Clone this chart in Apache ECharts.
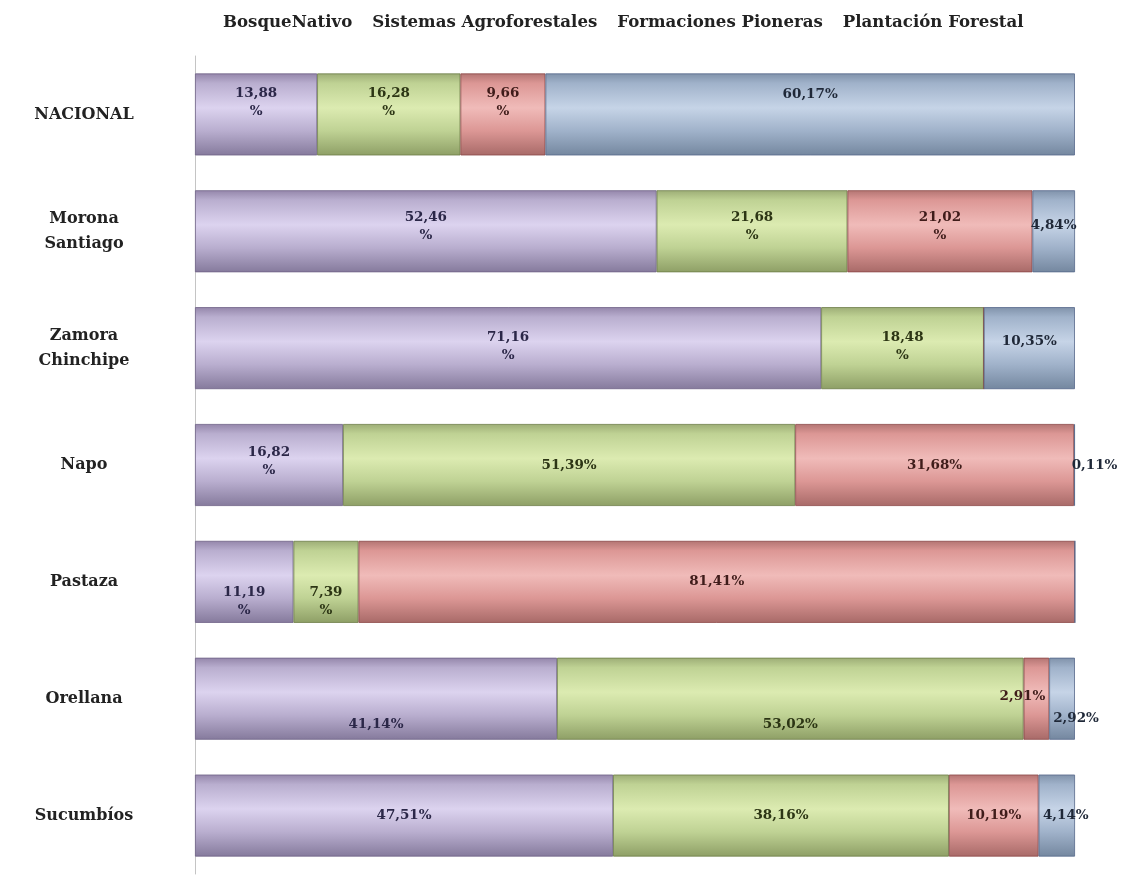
<!DOCTYPE html>
<html><head><meta charset="utf-8">
<script src="https://cdn.jsdelivr.net/npm/echarts@6/dist/echarts.min.js"></script>
<style>html,body{margin:0;padding:0;background:#fff}#c{width:1135px;height:877px}</style>
</head><body><div id="c"></div>
<script>
// ---- data ----
const categories = ['NACIONAL', 'Morona\nSantiago', 'Zamora\nChinchipe', 'Napo', 'Pastaza', 'Orellana', 'Sucumbíos'];
const seriesNames = ['BosqueNativo', 'Sistemas Agroforestales', 'Formaciones Pioneras', 'Plantación Forestal'];
const bosqueNativo = [13.88, 52.46, 71.16, 16.82, 11.19, 41.14, 47.51];
const sistemasAgroforestales = [16.28, 21.68, 18.48, 51.39, 7.39, 53.02, 38.16];
const formacionesPioneras = [9.66, 21.02, 0, 31.68, 81.41, 2.91, 10.19];
const plantacionForestal = [60.17, 4.84, 10.35, 0.11, 0, 2.92, 4.14];

// ---- styling (not data) ----
const values = [bosqueNativo, sistemasAgroforestales, formacionesPioneras, plantacionForestal];
const palettes = [
  ['#9486aa', '#dcd3ef', '#b9aecf', '#857a9c'],
  ['#9dad76', '#dcebb1', '#bfd294', '#8e9f66'],
  ['#b37573', '#f0bbb9', '#dc9795', '#a86a68'],
  ['#8092aa', '#c6d4e7', '#a0b2ca', '#74879f']
];
const borders = ['#6f6287', '#6d7d48', '#8c4846', '#56678a'];
const labelColors = ['#2b2748', '#2c3514', '#3f1c1a', '#1f2838'];
// labels wrapped onto two lines, as in the reference
const wrapped = {'0,0':1,'1,0':1,'2,0':1,'0,1':1,'1,1':1,'2,1':1,'0,2':1,'1,2':1,'0,3':1,'0,4':1,'1,4':1};
// label offsets [dx, dy]
const offsets = {
  '0,0':[0,-12],'1,0':[0,-12],'2,0':[0,-12],'3,0':[0,-20],
  '0,1':[0,-5],'1,1':[0,-5],'2,1':[0,-5],'3,1':[0,-6],
  '0,2':[0,-2],'1,2':[0,-2],'3,2':[0,-7],
  '0,3':[0,-4],'1,3':[0,0],'2,3':[0,0],'3,3':[20,0],
  '0,4':[0,20],'1,4':[0,20],'2,4':[0,0],
  '0,5':[0,26],'1,5':[0,26],'2,5':[-14,-2],'3,5':[14,20],
  '0,6':[0,0],'1,6':[0,0],'2,6':[0,0],'3,6':[9,0]
};
function fmt(v){ return v.toFixed(2).replace('.', ','); }
function grad(p){
  return new echarts.graphic.LinearGradient(0,0,0,1,[
    {offset:0,color:p[0]},{offset:0.12,color:p[2]},{offset:0.42,color:p[1]},
    {offset:0.7,color:p[2]},{offset:1,color:p[3]}]);
}
const series = seriesNames.map((name, si) => ({
  name, type: 'bar', stack: 'total', barWidth: 82,
  itemStyle: {color: grad(palettes[si]), borderColor: borders[si], borderWidth: 0.8},
  emphasis: {disabled: true},
  data: values[si].map((v, ri) => {
    const key = si + ',' + ri;
    const off = offsets[key] || [0,0];
    return {
      value: v,
      label: {
        show: v > 0, position: 'inside', offset: off,
        formatter: () => wrapped[key] ? fmt(v) + '\n%' : fmt(v) + '%'
      }
    };
  }),
  label: {
    show: true, color: labelColors[si], fontFamily: 'DejaVu Serif', fontWeight: 'bold',
    fontSize: 13.5, lineHeight: 18
  }
}));

const chart = echarts.init(document.getElementById('c'), null, {renderer: 'canvas'});
chart.setOption({
  animation: false,
  legend: {
    top: 9, left: 212, itemGap: 14, itemWidth: 0, itemHeight: 0,
    selectedMode: false,
    textStyle: {fontFamily: 'DejaVu Serif', fontWeight: 'bold', fontSize: 16.6, color: '#222', padding: 0},
    data: seriesNames
  },
  grid: {left: 195, right: 60, top: 56, bottom: 3},
  xAxis: {type: 'value', min: 0, max: 100, show: false},
  yAxis: {
    type: 'category', data: categories, inverse: true, offset: 7,
    axisLine: {show: true, lineStyle: {color: '#c4c4c4', width: 1}},
    axisTick: {show: false},
    axisLabel: {
      margin: 104, align: 'center', color: '#222', fontFamily: 'DejaVu Serif',
      fontWeight: 'bold', fontSize: 16, lineHeight: 25
    }
  },
  series
});
</script>
</body></html>
